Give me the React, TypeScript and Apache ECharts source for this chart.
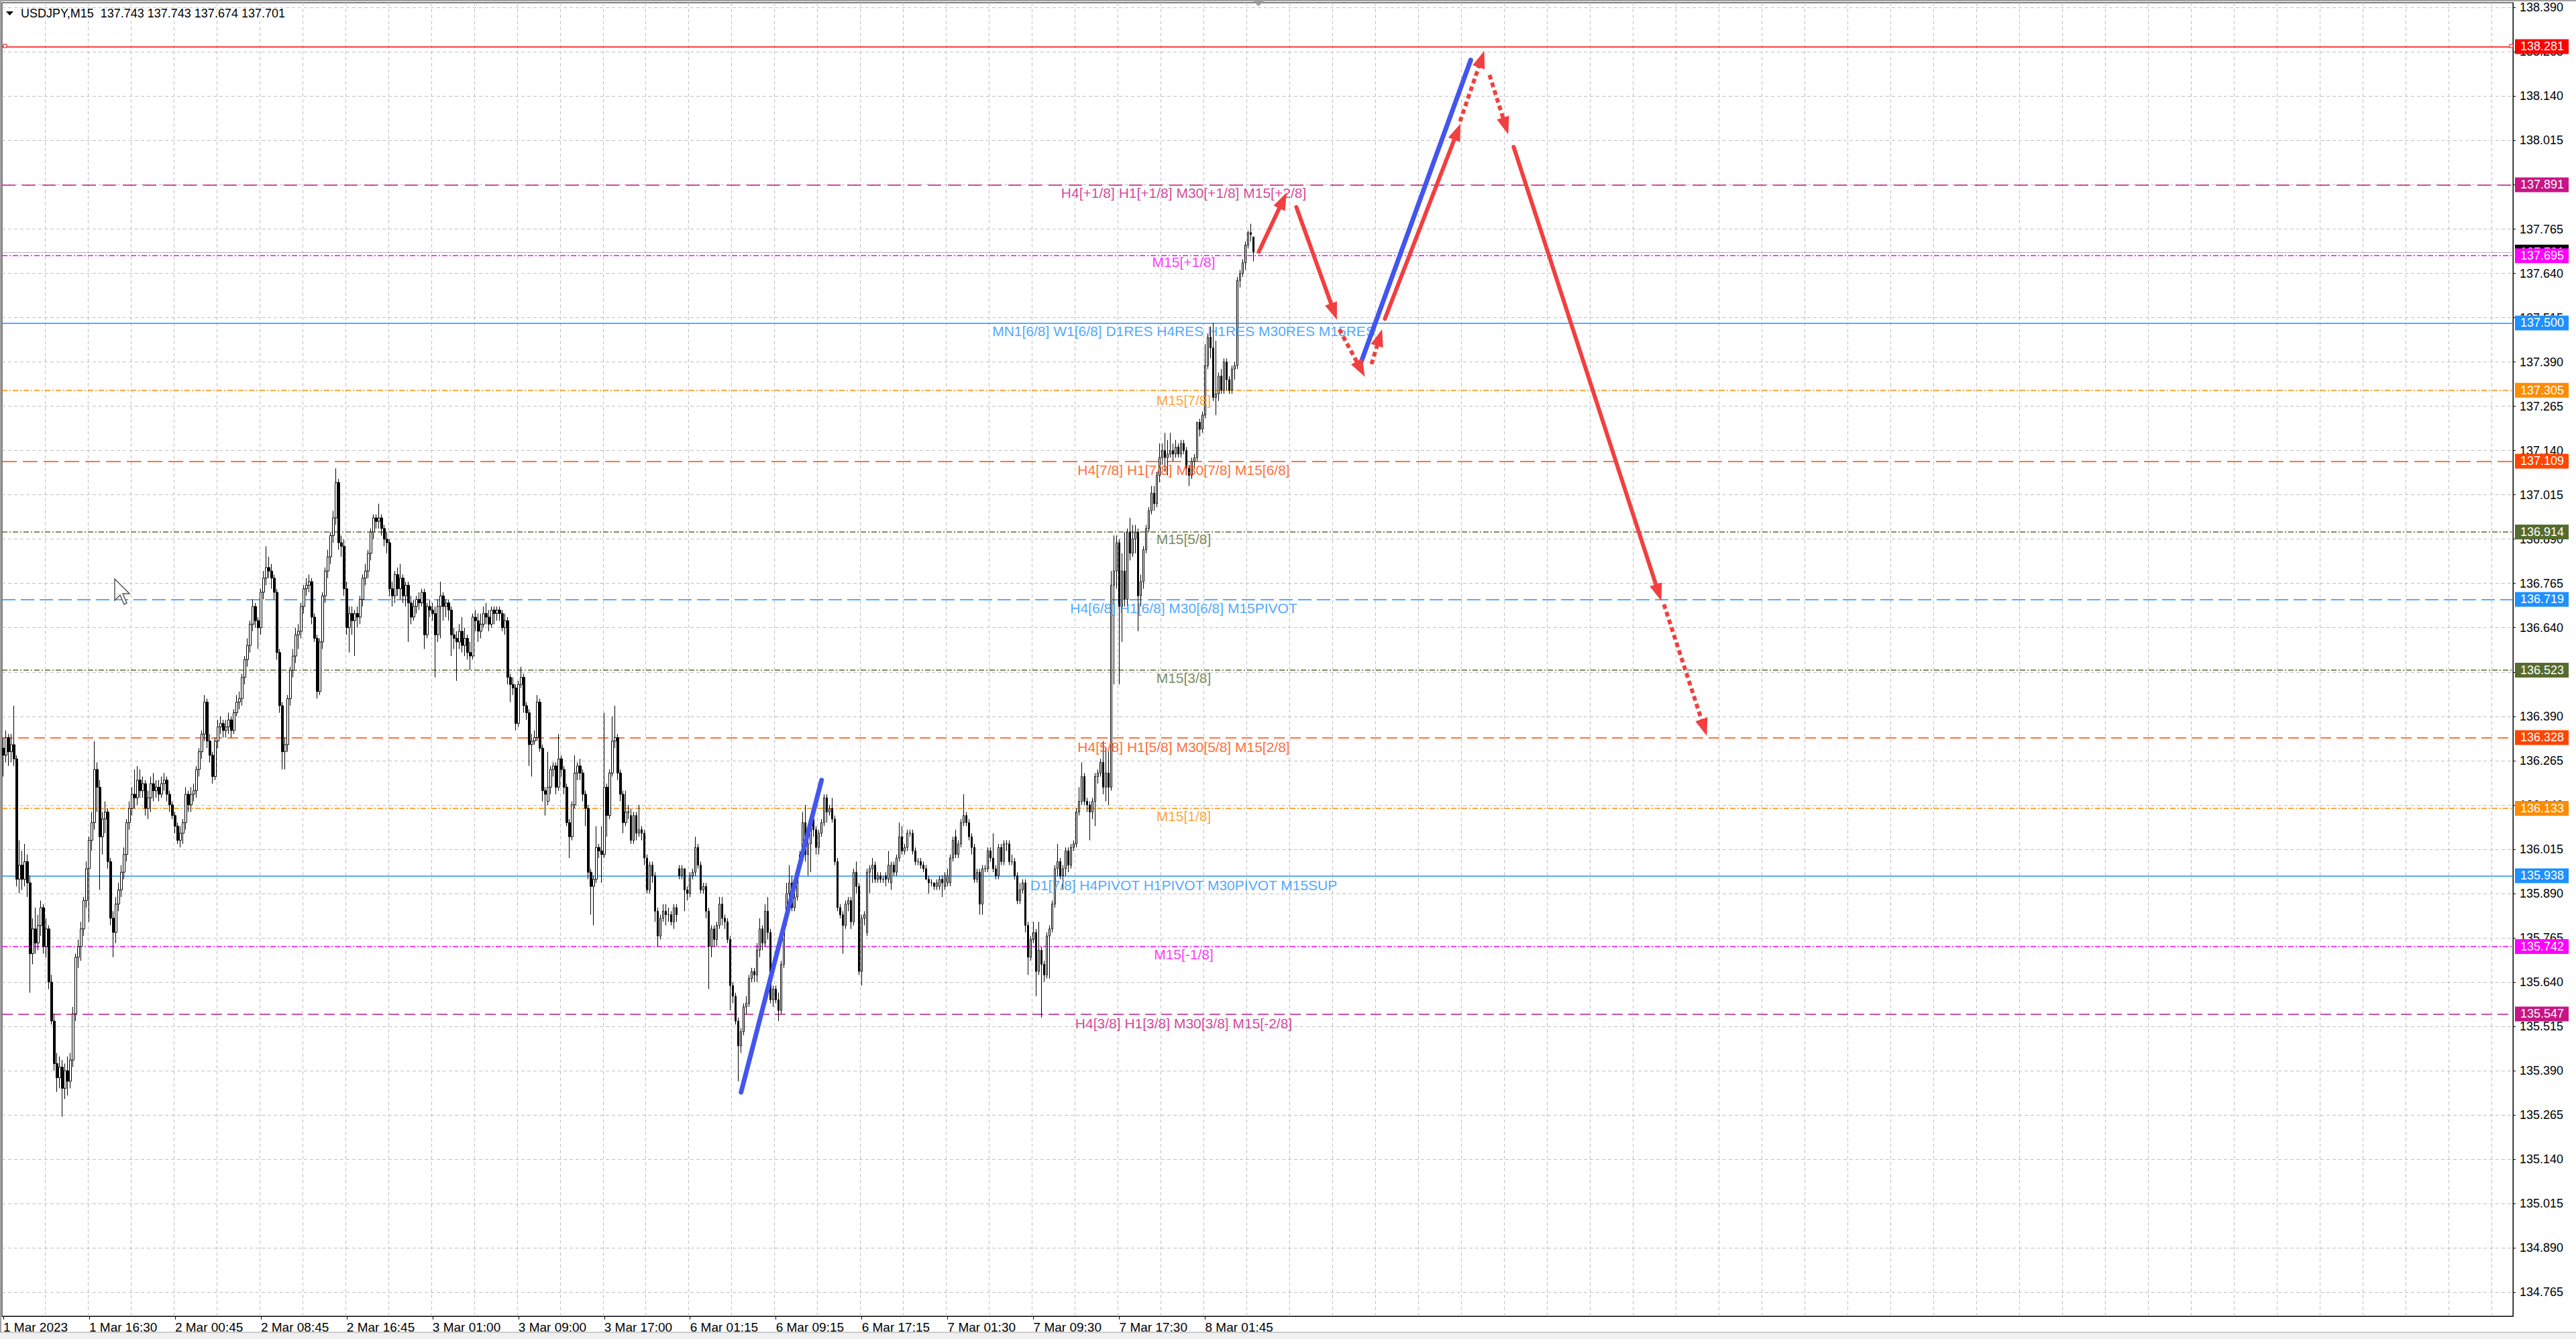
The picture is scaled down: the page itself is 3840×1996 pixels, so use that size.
import React, { useEffect, useRef } from "react";
import * as echarts from "echarts";

// ---------- axis text ----------
const xTickLabels = [
  "1 Mar 2023", "1 Mar 16:30", "2 Mar 00:45", "2 Mar 08:45", "2 Mar 16:45",
  "3 Mar 01:00", "3 Mar 09:00", "3 Mar 17:00", "6 Mar 01:15", "6 Mar 09:15",
  "6 Mar 17:15", "7 Mar 01:30", "7 Mar 09:30", "7 Mar 17:30", "8 Mar 01:45",
];
const BARS_PER_LABEL = 32;
const BARS_PER_GRID = 16;
const TOTAL_SLOTS = 936; // bars visible incl. empty future area

const yTicks = [
  134.765, 134.89, 135.015, 135.14, 135.265, 135.39, 135.515, 135.64, 135.765,
  135.89, 136.015, 136.14, 136.265, 136.39, 136.515, 136.64, 136.765, 136.89,
  137.015, 137.14, 137.265, 137.39, 137.515, 137.64, 137.765, 137.89, 138.015,
  138.14, 138.265, 138.39,
];
const Y_MIN = 134.697;
const Y_MAX = 138.404;

// ---------- candles [open, close, low, high] per trading day ----------
const mar1 = [
  [136.30,136.28,136.22,136.33],[136.28,136.33,136.26,136.35],[136.33,136.29,136.25,136.34],[136.29,136.31,136.26,136.34],
  [136.31,136.27,136.25,136.42],[136.27,135.93,135.91,136.28],[135.93,135.97,135.89,136.04],[135.97,135.93,135.90,136.01],
  [135.93,135.98,135.91,136.03],[135.98,135.92,135.88,136.00],[135.92,135.72,135.61,135.94],[135.72,135.79,135.69,135.82],
  [135.79,135.75,135.72,135.85],[135.75,135.80,135.73,135.83],[135.80,135.85,135.77,135.87],[135.85,135.74,135.72,135.86],
  [135.74,135.79,135.71,135.82],[135.79,135.64,135.62,135.80],[135.64,135.53,135.52,135.66],[135.53,135.41,135.39,135.55],
  [135.41,135.37,135.33,135.44],[135.37,135.40,135.34,135.43],[135.40,135.34,135.26,135.42],[135.34,135.39,135.31,135.41],
  [135.39,135.36,135.32,135.43],[135.36,135.42,135.34,135.44],[135.42,135.55,135.40,135.57],[135.55,135.71,135.53,135.72],
  [135.71,135.74,135.68,135.76],[135.74,135.79,135.70,135.81],[135.79,135.87,135.77,135.88],[135.87,135.96,135.85,135.98],
  [135.96,136.04,135.81,136.05],[136.04,136.09,136.01,136.12],[136.09,136.24,136.07,136.32],[136.24,136.19,136.12,136.26],
  [136.19,136.05,135.90,136.21],[136.05,136.10,136.00,136.12],[136.10,136.12,136.06,136.15],[136.12,135.98,135.96,136.13],
  [135.98,135.82,135.80,135.99],[135.82,135.78,135.71,135.84],[135.78,135.86,135.75,135.88],[135.86,135.90,135.84,135.92],
  [135.90,135.95,135.88,135.97],[135.95,136.00,135.93,136.02],[136.00,136.09,135.98,136.10],[136.09,136.13,136.07,136.15],
  [136.13,136.17,136.11,136.19],[136.17,136.16,136.13,136.24],[136.16,136.21,136.14,136.25],[136.21,136.18,136.16,136.24],
  [136.18,136.20,136.16,136.22],[136.20,136.13,136.11,136.21],[136.13,136.16,136.10,136.18],[136.16,136.20,136.12,136.22],
  [136.20,136.18,136.15,136.23],[136.18,136.19,136.16,136.21],[136.19,136.17,136.15,136.21],[136.17,136.20,136.16,136.22],
  [136.20,136.21,136.18,136.23],[136.21,136.17,136.15,136.22],
];
const mar2 = [
  [136.17,136.14,136.12,136.18],[136.14,136.11,136.10,136.15],[136.11,136.08,136.06,136.12],[136.08,136.04,136.03,136.09],
  [136.04,136.06,136.02,136.08],[136.06,136.09,136.03,136.10],[136.09,136.17,136.07,136.19],[136.17,136.14,136.12,136.18],
  [136.14,136.17,136.12,136.19],[136.17,136.18,136.15,136.20],[136.18,136.24,136.16,136.25],[136.24,136.29,136.22,136.30],
  [136.29,136.34,136.27,136.35],[136.34,136.43,136.32,136.45],[136.43,136.32,136.30,136.44],[136.32,136.28,136.26,136.34],
  [136.28,136.22,136.20,136.29],[136.22,136.32,136.21,136.33],[136.32,136.36,136.30,136.38],[136.36,136.37,136.34,136.39],
  [136.37,136.35,136.33,136.38],[136.35,136.36,136.33,136.38],[136.36,136.38,136.34,136.40],[136.38,136.35,136.33,136.39],
  [136.35,136.40,136.34,136.41],[136.40,136.43,136.39,136.45],[136.43,136.44,136.41,136.46],[136.44,136.50,136.42,136.51],
  [136.50,136.55,136.48,136.56],[136.55,136.59,136.53,136.61],[136.59,136.65,136.57,136.66],[136.65,136.70,136.63,136.72],
  [136.70,136.66,136.64,136.71],[136.66,136.64,136.58,136.67],[136.64,136.74,136.62,136.75],[136.74,136.78,136.72,136.80],
  [136.78,136.81,136.76,136.87],[136.81,136.80,136.78,136.84],[136.80,136.78,136.75,136.82],[136.78,136.74,136.72,136.79],
  [136.74,136.57,136.55,136.75],[136.57,136.42,136.40,136.58],[136.42,136.29,136.24,136.43],[136.29,136.31,136.24,136.33],
  [136.31,136.44,136.29,136.45],[136.44,136.52,136.42,136.53],[136.52,136.56,136.50,136.58],[136.56,136.62,136.54,136.64],
  [136.62,136.63,136.58,136.65],[136.63,136.70,136.61,136.71],[136.70,136.75,136.68,136.76],[136.75,136.76,136.73,136.78],
  [136.76,136.77,136.74,136.79],[136.77,136.67,136.65,136.78],[136.67,136.61,136.60,136.68],[136.61,136.46,136.44,136.62],
  [136.46,136.60,136.45,136.61],[136.60,136.73,136.58,136.74],[136.73,136.80,136.71,136.81],[136.80,136.84,136.78,136.86],
  [136.84,136.90,136.82,136.91],[136.90,136.95,136.88,136.97],[136.95,137.05,136.93,137.09],[137.05,136.88,136.86,137.06],
  [136.88,136.87,136.84,136.90],[136.87,136.75,136.73,136.89],[136.75,136.64,136.62,136.77],[136.64,136.68,136.57,136.70],
  [136.68,136.66,136.62,136.70],[136.66,136.68,136.56,136.69],[136.68,136.67,136.64,136.70],[136.67,136.72,136.65,136.73],
  [136.72,136.78,136.70,136.79],[136.78,136.80,136.76,136.82],[136.80,136.85,136.78,136.86],[136.85,136.91,136.83,136.92],
  [136.91,136.95,136.89,136.96],[136.95,136.94,136.92,136.96],[136.94,136.95,136.92,136.99],[136.95,136.92,136.90,136.96],
  [136.92,136.89,136.87,136.93],[136.89,136.88,136.85,136.91],[136.88,136.75,136.73,136.89],[136.75,136.73,136.70,136.77],
  [136.73,136.79,136.71,136.80],[136.79,136.75,136.73,136.81],[136.75,136.78,136.72,136.82],[136.78,136.73,136.71,136.79],
  [136.73,136.76,136.70,136.77],[136.76,136.71,136.60,136.77],[136.71,136.67,136.65,136.73],[136.67,136.70,136.66,136.72],
  [136.70,136.72,136.68,136.73],[136.72,136.71,136.69,136.74],[136.71,136.74,136.70,136.75],
];
const mar3 = [
  [136.74,136.62,136.58,136.75],[136.62,136.70,136.61,136.71],[136.70,136.69,136.67,136.72],[136.69,136.68,136.66,136.71],
  [136.68,136.62,136.50,136.70],[136.62,136.70,136.60,136.72],[136.70,136.73,136.61,136.77],[136.73,136.70,136.66,136.74],
  [136.70,136.71,136.67,136.72],[136.71,136.69,136.66,136.72],[136.69,136.62,136.56,136.70],[136.62,136.61,136.58,136.64],
  [136.61,136.60,136.49,136.63],[136.60,136.63,136.58,136.65],[136.63,136.59,136.57,136.67],[136.59,136.61,136.56,136.64],
  [136.61,136.57,136.55,136.62],[136.57,136.56,136.52,136.60],[136.56,136.67,136.55,136.68],[136.67,136.66,136.63,136.69],
  [136.66,136.63,136.60,136.68],[136.63,136.65,136.61,136.68],[136.65,136.68,136.64,136.70],[136.68,136.67,136.65,136.71],
  [136.67,136.65,136.63,136.69],[136.65,136.69,136.64,136.70],[136.69,136.68,136.65,136.70],[136.68,136.69,136.66,136.70],
  [136.69,136.68,136.66,136.70],[136.68,136.64,136.63,136.69],[136.64,136.66,136.62,136.68],[136.66,136.50,136.48,136.67],
  [136.50,136.48,136.43,136.51],[136.48,136.47,136.45,136.50],[136.47,136.37,136.35,136.48],[136.37,136.48,136.36,136.49],
  [136.48,136.50,136.47,136.53],[136.50,136.42,136.40,136.51],[136.42,136.40,136.38,136.43],[136.40,136.31,136.25,136.41],
  [136.31,136.32,136.22,136.34],[136.32,136.33,136.31,136.35],[136.33,136.43,136.32,136.45],[136.43,136.30,136.29,136.44],
  [136.30,136.18,136.15,136.31],[136.18,136.17,136.11,136.19],[136.15,136.19,136.14,136.29],[136.19,136.24,136.17,136.25],
  [136.24,136.25,136.22,136.26],[136.25,136.19,136.17,136.26],[136.19,136.27,136.18,136.34],[136.27,136.24,136.22,136.28],
  [136.24,136.19,136.17,136.25],[136.19,136.09,136.08,136.20],[136.09,136.05,135.99,136.10],[136.05,136.14,136.04,136.15],
  [136.14,136.23,136.13,136.28],[136.23,136.25,136.21,136.26],[136.25,136.23,136.21,136.27],[136.23,136.17,136.15,136.24],
  [136.17,136.13,136.08,136.18],[136.13,135.95,135.93,136.14],[135.95,135.91,135.83,135.96],[135.91,135.93,135.80,135.94],
  [135.93,136.02,135.92,136.08],[136.02,136.01,135.99,136.03],[136.01,136.00,135.92,136.08],[136.00,136.19,135.99,136.40],
  [136.19,136.11,136.05,136.20],[136.11,136.23,136.10,136.24],[136.23,136.32,136.22,136.39],[136.32,136.33,136.30,136.42],
  [136.33,136.23,136.21,136.34],[136.23,136.17,136.15,136.24],[136.17,136.09,136.06,136.18],[136.09,136.12,136.08,136.18],
  [136.12,136.12,136.10,136.14],[136.11,136.04,136.03,136.13],[136.04,136.11,136.03,136.12],[136.11,136.06,136.04,136.12],
  [136.06,136.07,136.05,136.14],[136.07,136.06,136.04,136.08],[136.06,135.99,135.97,136.07],[135.99,135.90,135.89,136.00],
  [135.90,135.97,135.89,135.98],[135.97,135.94,135.92,135.98],[135.94,135.84,135.81,135.95],[135.84,135.77,135.74,135.85],
  [135.77,135.82,135.76,135.83],[135.82,135.84,135.81,135.86],[135.84,135.83,135.80,135.86],[135.83,135.83,135.81,135.85],
  [135.83,135.81,135.80,135.84],[135.81,135.85,135.79,135.86],[135.85,135.83,135.81,135.86],
];
const mar6 = [
  [135.96,135.94,135.93,135.97],[135.94,135.96,135.93,135.97],[135.96,135.90,135.84,135.96],[135.90,135.89,135.87,135.91],
  [135.89,135.94,135.88,135.95],[135.94,135.95,135.93,135.96],[135.95,136.02,135.94,136.05],[136.02,135.97,135.96,136.03],
  [135.97,135.90,135.89,135.98],[135.90,135.91,135.89,135.92],[135.91,135.84,135.82,135.92],[135.84,135.74,135.62,135.85],
  [135.74,135.79,135.71,135.80],[135.79,135.76,135.74,135.80],[135.76,135.80,135.74,135.81],[135.80,135.86,135.79,135.88],
  [135.86,135.82,135.80,135.88],[135.82,135.81,135.79,135.83],[135.81,135.76,135.75,135.82],[135.76,135.63,135.56,135.77],
  [135.63,135.60,135.58,135.64],[135.60,135.53,135.52,135.61],[135.53,135.46,135.36,135.54],[135.46,135.50,135.44,135.51],
  [135.50,135.57,135.49,135.58],[135.57,135.58,135.55,135.60],[135.58,135.65,135.57,135.66],[135.65,135.67,135.64,135.68],
  [135.67,135.66,135.64,135.68],[135.66,135.73,135.64,135.75],[135.73,135.79,135.71,135.82],[135.79,135.75,135.73,135.80],
  [135.75,135.84,135.74,135.86],[135.84,135.78,135.76,135.88],[135.78,135.59,135.58,135.79],[135.59,135.62,135.57,135.63],
  [135.62,135.59,135.58,135.63],[135.59,135.56,135.53,135.61],[135.56,135.69,135.55,135.70],[135.69,135.81,135.68,135.82],
  [135.81,135.89,135.80,135.92],[135.89,135.92,135.88,135.97],[135.92,135.85,135.84,135.94],[135.85,135.88,135.84,135.90],
  [135.88,135.96,135.87,135.97],[135.96,136.00,135.95,136.01],[136.00,136.09,135.99,136.12],[136.09,136.00,135.98,136.14],
  [136.00,136.03,135.94,136.04],[136.03,136.10,135.95,136.11],[136.10,136.07,136.05,136.11],[136.07,136.02,136.00,136.08],
  [136.02,136.06,136.00,136.07],[136.06,136.09,136.05,136.10],[136.09,136.16,136.08,136.17],[136.16,136.12,136.09,136.17],
  [136.12,136.13,136.11,136.14],[136.13,136.10,136.09,136.16],[136.10,135.98,135.97,136.11],[135.98,135.85,135.84,135.99],
  [135.85,135.83,135.82,135.86],[135.83,135.80,135.72,135.84],[135.80,135.86,135.79,135.87],[135.86,135.87,135.84,135.88],
  [135.87,135.81,135.79,135.88],[135.81,135.95,135.80,135.96],[135.95,135.91,135.89,135.98],[135.91,135.67,135.66,135.92],
  [135.67,135.82,135.63,135.83],[135.82,135.83,135.80,135.84],[135.78,135.95,135.77,135.96],[135.95,135.96,135.89,135.97],
  [135.96,135.97,135.92,135.99],[135.97,135.93,135.92,135.98],[135.93,135.94,135.92,135.95],[135.94,135.93,135.92,135.95],
  [135.93,135.93,135.92,135.94],[135.94,135.93,135.91,135.95],[135.93,135.97,135.92,136.01],[135.92,135.97,135.90,135.98],
  [135.97,135.95,135.94,135.98],[135.95,135.99,135.94,136.00],[135.99,136.05,135.98,136.09],[136.05,136.01,136.00,136.08],
  [136.01,136.02,136.00,136.03],[136.02,136.06,136.01,136.07],[136.06,136.06,136.05,136.07],[136.06,136.01,136.00,136.07],
  [136.01,135.98,135.97,136.02],[135.98,135.98,135.97,135.99],[135.98,135.97,135.96,135.99],[135.97,135.96,135.95,135.98],
  [135.96,135.93,135.93,135.97],[135.93,135.92,135.89,135.94],[135.92,135.92,135.91,135.93],
];
const mar7 = [
  [135.92,135.91,135.90,135.92],[135.91,135.92,135.90,135.93],[135.91,135.93,135.90,135.94],[135.93,135.92,135.88,135.94],
  [135.91,135.94,135.90,135.95],[135.92,135.94,135.91,135.96],[135.92,135.99,135.91,136.00],[135.99,136.04,135.98,136.05],
  [136.05,136.00,135.99,136.07],[136.00,136.03,135.99,136.04],[136.03,136.09,136.02,136.10],[136.09,136.11,136.08,136.17],
  [136.11,136.09,136.08,136.12],[136.09,136.05,136.04,136.10],[136.05,136.02,136.00,136.06],[136.02,135.93,135.92,136.03],
  [135.93,135.95,135.92,135.96],[135.95,135.86,135.83,135.96],[135.86,135.96,135.83,135.97],[135.96,135.96,135.95,135.97],
  [135.96,136.01,135.95,136.02],[136.01,135.99,135.98,136.02],[135.99,135.96,135.95,136.06],[135.96,135.94,135.93,135.97],
  [135.94,136.02,135.93,136.03],[136.02,135.98,135.97,136.03],[135.98,136.03,135.97,136.04],[136.03,136.03,136.01,136.04],
  [136.03,135.98,135.97,136.04],[135.98,135.98,135.97,136.00],[135.98,135.94,135.93,135.99],[135.94,135.87,135.86,135.95],
  [135.87,135.90,135.86,135.92],[135.90,135.92,135.89,135.93],[135.92,135.80,135.78,135.93],[135.80,135.71,135.66,135.81],
  [135.71,135.76,135.70,135.77],[135.76,135.78,135.75,135.81],[135.78,135.67,135.60,135.79],[135.67,135.73,135.66,135.81],
  [135.73,135.69,135.54,135.74],[135.69,135.66,135.64,135.70],[135.66,135.77,135.65,135.78],[135.77,135.79,135.65,135.80],
  [135.79,135.86,135.78,135.87],[135.86,135.96,135.85,135.97],[135.96,135.98,135.94,136.03],[135.98,135.94,135.93,135.99],
  [135.94,135.96,135.90,135.97],[135.96,136.01,135.94,136.02],[136.01,135.97,135.95,136.02],[135.97,136.02,135.96,136.03],
  [136.02,136.03,136.01,136.04],[136.03,136.12,136.02,136.13],[136.12,136.15,136.11,136.19],[136.15,136.22,136.14,136.26],
  [136.22,136.15,136.14,136.23],[136.15,136.14,136.12,136.16],[136.14,136.12,136.04,136.15],[136.12,136.15,136.10,136.16],
  [136.15,136.22,136.08,136.23],[136.22,136.23,136.20,136.24],[136.23,136.26,136.22,136.27],[136.26,136.19,136.17,136.32],
  [136.19,136.23,136.15,136.30],[136.23,136.19,136.14,136.29],[136.19,136.76,136.18,136.80],[136.76,136.80,136.48,136.90],
  [136.80,136.88,136.75,136.90],[136.88,136.70,136.48,136.89],[136.70,136.80,136.60,136.85],[136.80,136.72,136.70,136.91],
  [136.72,136.91,136.70,136.92],[136.91,136.85,136.83,136.95],[136.85,136.89,136.84,136.93],[136.89,136.91,136.85,136.93],
  [136.91,136.73,136.63,136.92],[136.73,136.77,136.70,136.79],[136.77,136.86,136.75,136.87],[136.86,136.92,136.85,136.93],
  [136.92,136.97,136.91,136.98],[136.97,137.02,136.96,137.04],[137.02,136.99,136.97,137.04],[136.99,137.07,136.98,137.08],
  [137.07,137.12,137.05,137.16],[137.12,137.14,137.10,137.16],[137.14,137.12,137.08,137.19],[137.12,137.13,137.07,137.17],
  [137.13,137.14,137.12,137.19],[137.14,137.13,137.11,137.16],[137.13,137.15,137.12,137.17],[137.15,137.13,137.12,137.16],
  [137.13,137.16,137.12,137.17],[137.16,137.14,137.13,137.17],[137.14,137.09,137.07,137.15],
];
const mar8 = [
  [137.09,137.07,137.04,137.10],[137.07,137.11,137.06,137.12],[137.11,137.12,137.09,137.13],[137.12,137.22,137.11,137.22],
  [137.22,137.20,137.18,137.23],[137.20,137.24,137.19,137.25],[137.24,137.38,137.23,137.44],[137.38,137.46,137.37,137.47],
  [137.46,137.43,137.40,137.49],[137.43,137.29,137.28,137.50],[137.29,137.30,137.24,137.45],[137.30,137.35,137.28,137.36],
  [137.35,137.31,137.30,137.37],[137.31,137.39,137.30,137.40],[137.39,137.34,137.31,137.40],[137.34,137.31,137.30,137.35],
  [137.31,137.37,137.30,137.38],[137.37,137.38,137.34,137.39],[137.38,137.62,137.37,137.63],[137.62,137.64,137.60,137.65],
  [137.64,137.67,137.63,137.68],[137.67,137.72,137.65,137.73],[137.72,137.755,137.71,137.76],[137.755,137.75,137.73,137.78],
  [137.743,137.701,137.674,137.743],
];

// ---------- horizontal levels ----------
const levelPrices = [138.281, 137.891, 137.695, 137.5, 137.305, 137.109, 136.914, 136.719, 136.523, 136.328, 136.133, 135.938, 135.742, 135.547];
const levelTexts = [
  "",
  "H4[+1/8] H1[+1/8] M30[+1/8] M15[+2/8]",
  "M15[+1/8]",
  "MN1[6/8] W1[6/8] D1RES H4RES H1RES M30RES M15RES",
  "M15[7/8]",
  "H4[7/8] H1[7/8] M30[7/8] M15[6/8]",
  "M15[5/8]",
  "H4[6/8] H1[6/8] M30[6/8] M15PIVOT",
  "M15[3/8]",
  "H4[5/8] H1[5/8] M30[5/8] M15[2/8]",
  "M15[1/8]",
  "D1[7/8] H4PIVOT H1PIVOT M30PIVOT M15SUP",
  "M15[-1/8]",
  "H4[3/8] H1[3/8] M30[3/8] M15[-2/8]",
];
const LEVEL_TEXT_BAR = 440;

// ---------- drawn arrows (bar index, price) ----------
const blueStrokes = [
  { from: [275, 135.329], to: [305, 136.21] },
  { from: [506, 137.387], to: [547, 138.242] },
];
const redArrows = [
  { from: [468, 137.701], to: [477, 137.846], dotted: false },
  { from: [482, 137.827], to: [496, 137.532], dotted: false },
  { from: [498, 137.482], to: [506, 137.37], dotted: true },
  { from: [510, 137.384], to: [513, 137.459], dotted: true },
  { from: [515, 137.512], to: [542, 138.04], dotted: false },
  { from: [543, 138.069], to: [551, 138.245], dotted: true },
  { from: [554, 138.2], to: [560, 138.056], dotted: true },
  { from: [563, 137.997], to: [617, 136.739], dotted: false },
  { from: [619, 136.706], to: [634, 136.358], dotted: true },
];

// ---------- styles ----------
const FONT = "'Liberation Sans', Arial, sans-serif";
const GRID_COLOR = "#c0c0c0";
const levelStyle: Record<number, { color: string; type: any; width: number }> = {
  0: { color: "#FF0000", type: "solid", width: 1.5 },
  1: { color: "#C71585", type: [20, 10], width: 1.5 },
  2: { color: "#FF00FF", type: [8, 3, 2, 3], width: 1.5 },
  3: { color: "#1E90FF", type: "solid", width: 1.5 },
  4: { color: "#FF8C00", type: [8, 3, 2, 3], width: 1.5 },
  5: { color: "#FF4500", type: [22, 9], width: 1.5 },
  6: { color: "#556B2F", type: [8, 3, 2, 3], width: 1.5 },
  7: { color: "#1E90FF", type: [20, 8], width: 1.5 },
  8: { color: "#556B2F", type: [8, 3, 2, 3], width: 1.5 },
  9: { color: "#FF4500", type: [16, 8], width: 1.5 },
  10: { color: "#FF8C00", type: [8, 3, 2, 3], width: 1.5 },
  11: { color: "#1E90FF", type: "solid", width: 1.5 },
  12: { color: "#FF00FF", type: [8, 3, 2, 3], width: 1.5 },
  13: { color: "#C71585", type: [16, 8], width: 1.5 },
};
const RED = "#F23F3F";
const BLUE = "#4256EE";

function buildOption() {
  const candles = [...mar1, ...mar2, ...mar3, ...mar6, ...mar7, ...mar8];
  const last = candles[candles.length - 1];
  const categories = Array.from({ length: TOTAL_SLOTS }, (_, i) => String(i));
  const isLabelBar = (i: number) => i % BARS_PER_LABEL === 0 && i / BARS_PER_LABEL < xTickLabels.length;

  const tag = (price: number, color: string) => ({
    show: true,
    position: "end",
    distance: 3,
    formatter: price.toFixed(3),
    color: "#ffffff",
    backgroundColor: color,
    padding: [2, 7, 2, 8],
    fontSize: 18,
    lineHeight: 18,
    fontFamily: FONT,
  });

  const levelLines: any[] = [
    {
      yAxis: last[1],
      lineStyle: { color: "#b4b4b4", type: "solid", width: 1.2 },
      label: tag(last[1], "#000000"),
    },
  ];
  levelPrices.forEach((p, i) => {
    const st = levelStyle[i];
    levelLines.push({
      yAxis: p,
      lineStyle: { color: st.color, type: st.type, width: st.width },
      label: tag(p, st.color),
    });
  });

  const arrowLines: any[] = [];
  blueStrokes.forEach((s) => {
    arrowLines.push([
      { coord: s.from, symbol: "none", lineStyle: { color: BLUE, width: 7, type: "solid", cap: "round" } },
      { coord: s.to, symbol: "none" },
    ]);
  });
  redArrows.forEach((a) => {
    arrowLines.push([
      {
        coord: a.from,
        symbol: "none",
        lineStyle: a.dotted
          ? { color: RED, width: 6, type: [7, 5], cap: "butt" }
          : { color: RED, width: 6, type: "solid", cap: "round" },
      },
      { coord: a.to, symbol: "triangle", symbolSize: [19, 26] },
    ]);
  });

  const textPoints = levelPrices
    .map((p, i) => ({ p, i }))
    .filter((d) => levelTexts[d.i])
    .map((d) => ({
      value: [LEVEL_TEXT_BAR, d.p],
      label: {
        show: true,
        position: "bottom",
        distance: 1,
        formatter: levelTexts[d.i],
        color: levelStyle[d.i].color,
        fontSize: 21,
        lineHeight: 22,
        fontFamily: FONT,
      },
    }));

  return {
    animation: false,
    backgroundColor: "#ffffff",
    title: {
      text: "USDJPY,M15\u00a0\u00a0137.743 137.743 137.674 137.701",
      left: 31,
      top: 11,
      padding: 0,
      textStyle: { fontSize: 18, fontWeight: "normal", color: "#000", fontFamily: FONT },
    },
    grid: {
      left: 3,
      top: 4,
      right: 94,
      bottom: 34,
      show: true,
      borderColor: "#000",
      borderWidth: 1,
      backgroundColor: "#fff",
      containLabel: false,
      outerBoundsMode: "none",
    },
    xAxis: {
      type: "category",
      data: categories,
      boundaryGap: true,
      axisLine: { show: true, lineStyle: { color: "#000", width: 1 } },
      axisTick: {
        show: true,
        alignWithLabel: true,
        interval: (i: number) => isLabelBar(i),
        length: 5,
        lineStyle: { color: "#000" },
      },
      axisLabel: {
        interval: (i: number) => isLabelBar(i),
        formatter: (_v: string, i: number) => xTickLabels[i / BARS_PER_LABEL] ?? "",
        align: "left",
        margin: 7,
        fontSize: 19,
        color: "#000",
        fontFamily: FONT,
      },
      splitLine: {
        show: true,
        interval: (i: number) => i % BARS_PER_GRID === 0 && i > 0,
        lineStyle: { color: GRID_COLOR, type: [5, 4], width: 1 },
      },
    },
    yAxis: {
      type: "value",
      position: "right",
      min: Y_MIN,
      max: Y_MAX,
      axisLine: { show: true, lineStyle: { color: "#000", width: 1 } },
      axisTick: { show: true, customValues: yTicks, length: 4, lineStyle: { color: "#000" } },
      axisLabel: {
        customValues: yTicks,
        formatter: (v: number) => v.toFixed(3),
        fontSize: 18,
        color: "#000",
        margin: 10,
        fontFamily: FONT,
      },
      splitLine: { show: true, lineStyle: { color: GRID_COLOR, type: [5, 4], width: 1 } },
    },
    series: [
      {
        type: "candlestick",
        data: candles,
        barWidth: 3,
        z: 3,
        itemStyle: {
          color: "#ffffff",
          color0: "#000000",
          borderColor: "#000000",
          borderColor0: "#000000",
          borderWidth: 1,
        },
        markLine: {
          silent: true,
          z: 1,
          symbol: ["none", "none"],
          animation: false,
          data: levelLines,
        },
      },
      {
        type: "scatter",
        data: textPoints,
        symbolSize: 1,
        itemStyle: { color: "rgba(0,0,0,0)" },
        z: 4,
        silent: true,
        markLine: {
          silent: true,
          z: 6,
          animation: false,
          symbol: ["none", "triangle"],
          symbolSize: [19, 26],
          label: { show: false },
          data: arrowLines,
        },
      },
    ],
    graphic: [
      { type: "rect", shape: { x: 0, y: 0, width: 3840, height: 2 }, style: { fill: "#a0a0a0" }, silent: true },
      { type: "rect", shape: { x: 0, y: 0, width: 2, height: 1996 }, style: { fill: "#a0a0a0" }, silent: true },
      { type: "rect", shape: { x: 0, y: 1986, width: 3840, height: 10 }, style: { fill: "#f0f0f0" }, silent: true },
      { type: "line", shape: { x1: 0, y1: 1986, x2: 3840, y2: 1986 }, style: { stroke: "#a0a0a0", lineWidth: 1 }, silent: true },
      { type: "polygon", shape: { points: [[9, 17], [20, 17], [14.5, 23]] }, style: { fill: "#000" }, silent: true },
      { type: "polygon", shape: { points: [[1868, 2], [1884, 2], [1876, 9]] }, style: { fill: "#9a9a9a" }, silent: true },
      { type: "rect", shape: { x: 3741, y: 66, width: 5, height: 5 }, style: { fill: "#fff", stroke: "#FF0000", lineWidth: 1 }, silent: true, z: 10 },
      { type: "rect", shape: { x: 5, y: 66, width: 5, height: 5 }, style: { fill: "#fff", stroke: "#FF0000", lineWidth: 1 }, silent: true, z: 10 },
      {
        type: "polygon",
        shape: { points: [[171, 863], [171, 895], [179, 887], [185, 901], [189, 899], [183, 885], [193, 885]] },
        style: { fill: "#ffffff", stroke: "#555", lineWidth: 1.5 },
        silent: true,
        z: 10,
      },
    ],
  };
}

export default function App() {
  const ref = useRef<HTMLDivElement>(null);
  useEffect(() => {
    document.body.style.margin = "0";
    if (!ref.current) return;
    const chart = echarts.init(ref.current, null, { renderer: "svg" });
    chart.setOption(buildOption() as any);
    return () => chart.dispose();
  }, []);
  return <div ref={ref} style={{ width: 3840, height: 1996, background: "#fff" }} />;
}
